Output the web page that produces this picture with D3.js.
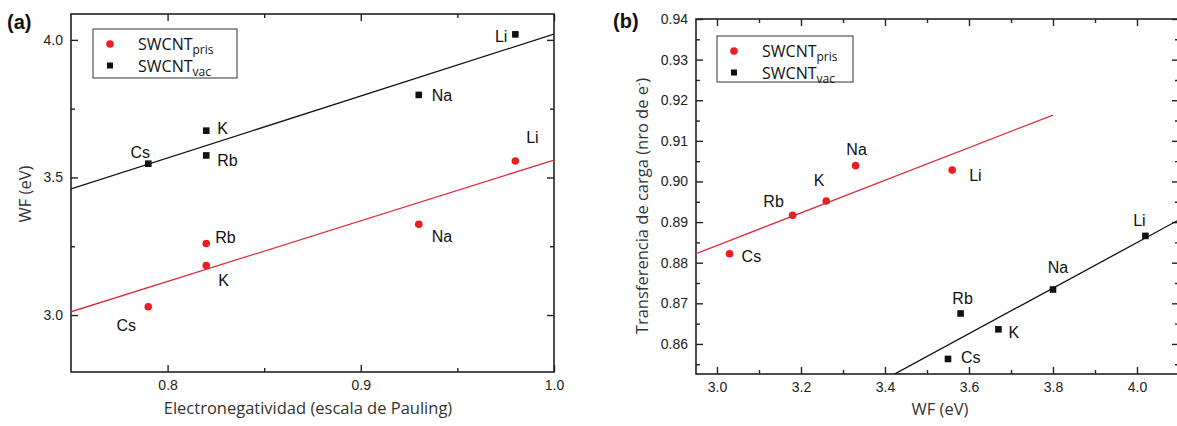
<!DOCTYPE html>
<html>
<head>
<meta charset="utf-8">
<script src="https://cdn.jsdelivr.net/npm/d3@7"></script>
<style>
  html, body { margin: 0; padding: 0; background: #fff; }
  svg { display: block; }
  .tick text { font-family: "Liberation Sans", Arial, sans-serif; font-size: 14px; fill: #222; }
  .tick line { stroke: #222; stroke-width: 1.4; }
</style>
</head>
<body>
<svg id="chart" width="1177" height="426"></svg>
<script>
// Alkali metals adsorbed on pristine and vacancy SWCNT
const elements = ["Li", "Na", "K", "Rb", "Cs"];
const electronegativity = [0.98, 0.93, 0.82, 0.82, 0.79];
// Work function (eV) vs electronegativity, panel (a)
const wfPris = [3.56, 3.33, 3.18, 3.26, 3.03];
const wfVac = [4.02, 3.80, 3.67, 3.58, 3.55];
// Work function (eV) vs charge transfer (e-), panel (b)
const wfPrisB = [3.56, 3.33, 3.26, 3.18, 3.03];
const wfVacB = [4.02, 3.80, 3.67, 3.58, 3.55];
const chargePris = [0.9028, 0.9039, 0.8952, 0.8917, 0.8822];
const chargeVac = [0.8866, 0.8734, 0.8636, 0.8675, 0.8563];

// Tick values
const ticksAx = [0.8, 0.9, 1.0];
const minorAx = [0.85, 0.95];
const ticksAy = [3.0, 3.5, 4.0];
const minorAy = [3.25, 3.75];
const ticksBx = [3.0, 3.2, 3.4, 3.6, 3.8, 4.0];
const minorBx = [3.1, 3.3, 3.5, 3.7, 3.9];
const ticksBy = [0.86, 0.87, 0.88, 0.89, 0.90, 0.91, 0.92, 0.93, 0.94];
const minorBy = [0.855, 0.865, 0.875, 0.885, 0.895, 0.905, 0.915, 0.925, 0.935];

// Label placement per element: [dx, dy, anchor]
const placeAVac  = { Li: [-8, 8, "end"], Na: [13, 6, "start"], K: [11, 3, "start"], Rb: [11, 11, "start"], Cs: [-8, -6, "middle"] };
const placeAPris = { Li: [17, -18, "middle"], Na: [13, 18, "start"], K: [12, 20, "start"], Rb: [9, 0, "start"], Cs: [-22, 24, "middle"] };
const placeBPris = { Li: [17, 11, "start"], Na: [1, -11, "middle"], K: [-7, -15, "middle"], Rb: [-19, -8, "middle"], Cs: [12, 8, "start"] };
const placeBVac  = { Li: [-6, -10, "middle"], Na: [5, -17, "middle"], K: [10, 9, "start"], Rb: [2, -9, "middle"], Cs: [13, 4, "start"] };

const RED = "#ec1c24";
const RED_LINE = "#dd2a35";
const BLACK = "#111";
const AXIS = "#222";

const svg = d3.select("#chart");

function linearFit(xs, ys) {
  const mx = d3.mean(xs), my = d3.mean(ys);
  let sxy = 0, sxx = 0;
  xs.forEach((x, i) => { sxy += (x - mx) * (ys[i] - my); sxx += (x - mx) * (x - mx); });
  const slope = sxy / sxx;
  return x => my + slope * (x - mx);
}

function drawPanel(cfg) {
  const g = svg.append("g");
  const x = d3.scaleLinear().domain(cfg.xDomain).range([cfg.left, cfg.left + cfg.width]);
  const y = d3.scaleLinear().domain(cfg.yDomain).range([cfg.top + cfg.height, cfg.top]);
  const bottom = cfg.top + cfg.height, right = cfg.left + cfg.width;

  const clipId = "clip-" + cfg.id;
  svg.append("clipPath").attr("id", clipId).append("rect")
    .attr("x", cfg.left).attr("y", cfg.top).attr("width", cfg.width).attr("height", cfg.height);

  // axes with inward ticks
  const addAxis = (axis, tx, ty) => {
    const a = g.append("g").attr("transform", `translate(${tx},${ty})`).call(axis);
    a.select(".domain").remove();
    return a;
  };
  addAxis(d3.axisBottom(x).tickValues(cfg.xTicks).tickSize(-7).tickPadding(8).tickFormat(cfg.xFormat), 0, bottom);
  addAxis(d3.axisBottom(x).tickValues(cfg.xMinor).tickSize(-4).tickFormat(""), 0, bottom);
  addAxis(d3.axisTop(x).tickValues(cfg.xTicks).tickSize(-7).tickFormat(""), 0, cfg.top);
  addAxis(d3.axisTop(x).tickValues(cfg.xMinor).tickSize(-4).tickFormat(""), 0, cfg.top);
  addAxis(d3.axisLeft(y).tickValues(cfg.yTicks).tickSize(-7).tickPadding(8).tickFormat(cfg.yFormat), cfg.left, 0);
  addAxis(d3.axisLeft(y).tickValues(cfg.yMinor).tickSize(-4).tickFormat(""), cfg.left, 0);
  addAxis(d3.axisRight(y).tickValues(cfg.yTicks).tickSize(-7).tickFormat(""), right, 0);
  addAxis(d3.axisRight(y).tickValues(cfg.yMinor).tickSize(-4).tickFormat(""), right, 0);

  g.append("rect")
    .attr("x", cfg.left).attr("y", cfg.top).attr("width", cfg.width).attr("height", cfg.height)
    .attr("fill", "none").attr("stroke", AXIS).attr("stroke-width", 1.6);

  // fitted lines
  const lines = g.append("g").attr("clip-path", `url(#${clipId})`);
  cfg.series.forEach(s => {
    const f = linearFit(s.xs, s.ys);
    lines.append("line")
      .attr("x1", x(s.fitRange[0])).attr("y1", y(f(s.fitRange[0])))
      .attr("x2", x(s.fitRange[1])).attr("y2", y(f(s.fitRange[1])))
      .attr("stroke", s.lineColor).attr("stroke-width", 1.3);
  });

  // markers and element labels
  cfg.series.forEach(s => {
    elements.forEach((el, i) => {
      const px = x(s.xs[i]), py = y(s.ys[i]);
      if (s.shape === "circle") {
        g.append("circle").attr("cx", px).attr("cy", py).attr("r", 3.8).attr("fill", s.color);
      } else {
        g.append("rect").attr("x", px - 3.3).attr("y", py - 3.3).attr("width", 6.6).attr("height", 6.6).attr("fill", s.color);
      }
      const [dx, dy, anchor] = s.place[el];
      g.append("text")
        .attr("x", px + dx).attr("y", py + dy)
        .attr("text-anchor", anchor)
        .style("font-family", "'Liberation Sans', Arial, sans-serif")
        .style("font-size", "16px").attr("fill", "#111")
        .text(el);
    });
  });

  // legend
  const lg = g.append("g");
  lg.append("rect")
    .attr("x", cfg.legend.x).attr("y", cfg.legend.y).attr("width", cfg.legend.w).attr("height", cfg.legend.h)
    .attr("fill", "#fff").attr("stroke", "#333").attr("stroke-width", 1);
  const entries = [
    { sub: "pris", shape: "circle", color: RED },
    { sub: "vac", shape: "rect", color: BLACK }
  ];
  entries.forEach((e, i) => {
    const cy = cfg.legend.y + 15 + i * 21.5;
    const mx = cfg.legend.x + 17;
    if (e.shape === "circle") {
      lg.append("circle").attr("cx", mx).attr("cy", cy).attr("r", 3.8).attr("fill", e.color);
    } else {
      lg.append("rect").attr("x", mx - 3).attr("y", cy - 3).attr("width", 6).attr("height", 6).attr("fill", e.color);
    }
    const t = lg.append("text").attr("x", mx + 28).attr("y", cy + 6)
      .style("font-family", "'Open Sans', sans-serif").style("font-size", "16px").attr("fill", "#111");
    t.append("tspan").text("SWCNT");
    t.append("tspan").attr("dy", 4).style("font-size", "12px").text(e.sub);
  });

  // axis titles
  g.append("text")
    .attr("x", cfg.xTitle.x).attr("y", cfg.xTitle.y).attr("text-anchor", "middle")
    .style("font-family", "'Open Sans', sans-serif").style("font-size", cfg.titleSize).attr("fill", "#333")
    .text(cfg.xTitle.text);
  const yt = g.append("text")
    .attr("transform", `translate(${cfg.yTitle.x},${cfg.yTitle.y}) rotate(-90)`)
    .attr("text-anchor", "middle")
    .style("font-family", "'Open Sans', sans-serif").style("font-size", cfg.titleSize).attr("fill", "#333");
  cfg.yTitle.parts.forEach(p => {
    const ts = yt.append("tspan").text(p.text);
    if (p.sup) ts.attr("dy", -6).style("font-size", "10px");
    if (p.after) ts.attr("dy", 6);
  });

  // panel letter
  svg.append("text")
    .attr("x", cfg.letter.x).attr("y", cfg.letter.y)
    .style("font-family", "'Liberation Sans', Arial, sans-serif").style("font-size", "20px").style("font-weight", "bold")
    .attr("fill", "#111").text(cfg.letter.text);
}

drawPanel({
  id: "a", left: 71, top: 14, width: 483, height: 358,
  xDomain: [0.75, 1.0], yDomain: [2.793, 4.094],
  xTicks: ticksAx, xMinor: minorAx, yTicks: ticksAy, yMinor: minorAy,
  xFormat: d3.format(".1f"), yFormat: d3.format(".1f"),
  series: [
    { xs: electronegativity, ys: wfPris, shape: "circle", color: RED, lineColor: RED_LINE, fitRange: [0.75, 1.0], place: placeAPris },
    { xs: electronegativity, ys: wfVac, shape: "rect", color: BLACK, lineColor: BLACK, fitRange: [0.75, 1.0], place: placeAVac }
  ],
  legend: { x: 93, y: 29, w: 144, h: 49 },
  xTitle: { x: 308, y: 414, text: "Electronegatividad (escala de Pauling)" },
  yTitle: { x: 31, y: 194, parts: [{ text: "WF (eV)" }] },
  titleSize: "16.5px",
  letter: { x: 7, y: 29, text: "(a)" }
});

drawPanel({
  id: "b", left: 696, top: 19, width: 483, height: 355,
  xDomain: [2.95, 4.1], yDomain: [0.8526, 0.94],
  xTicks: ticksBx, xMinor: minorBx, yTicks: ticksBy, yMinor: minorBy,
  xFormat: d3.format(".1f"), yFormat: d3.format(".2f"),
  series: [
    { xs: wfPrisB, ys: chargePris, shape: "circle", color: RED, lineColor: RED_LINE, fitRange: [2.95, 3.8], place: placeBPris },
    { xs: wfVacB, ys: chargeVac, shape: "rect", color: BLACK, lineColor: BLACK, fitRange: [3.3, 4.1], place: placeBVac }
  ],
  legend: { x: 717, y: 36, w: 136, h: 46 },
  xTitle: { x: 940, y: 415, text: "WF (eV)" },
  yTitle: { x: 648, y: 206, parts: [{ text: "Transferencia de carga (nro de e" }, { text: "-", sup: true }, { text: ")", after: true }] },
  titleSize: "16.5px",
  letter: { x: 613, y: 28, text: "(b)" }
});
</script>
</body>
</html>
